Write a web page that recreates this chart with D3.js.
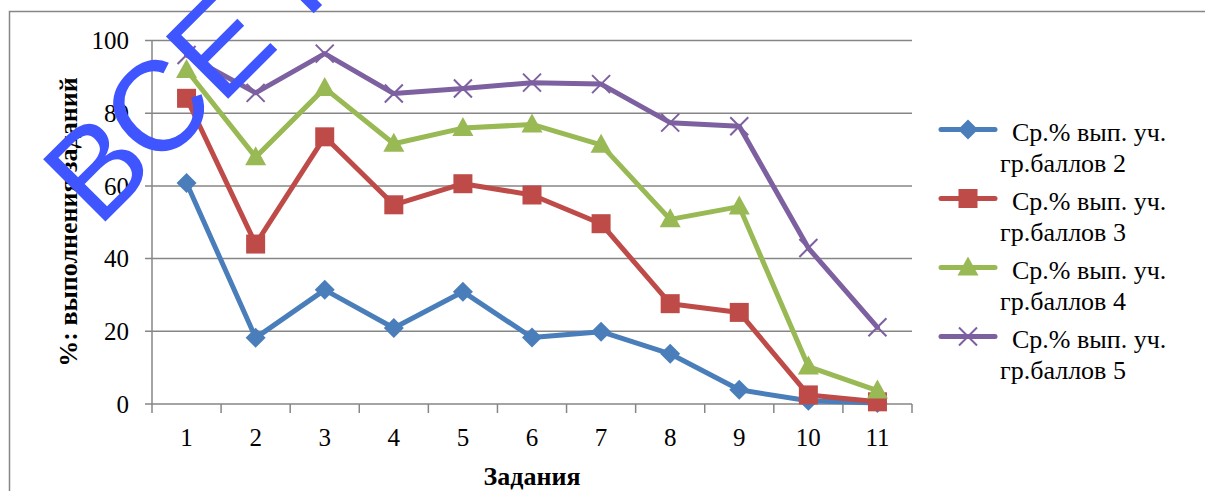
<!DOCTYPE html>
<html>
<head>
<meta charset="utf-8">
<script src="https://cdn.jsdelivr.net/npm/d3@7"></script>
<style>
  html, body { margin: 0; padding: 0; background: #fff; }
  svg { display: block; }
</style>
</head>
<body>
<script>
// ---- data ----
const categories = ["1","2","3","4","5","6","7","8","9","10","11"];
const seriesNames = [
  ["Ср.% вып. уч.", "гр.баллов 2"],
  ["Ср.% вып. уч.", "гр.баллов 3"],
  ["Ср.% вып. уч.", "гр.баллов 4"],
  ["Ср.% вып. уч.", "гр.баллов 5"]
];
const values2 = [60.8, 18.2, 31.4, 20.9, 30.9, 18.3, 19.9, 13.8, 3.9, 0.9, 0.3];
const values3 = [84.1, 44.0, 73.5, 54.8, 60.6, 57.5, 49.6, 27.6, 25.2, 2.5, 0.6];
const values4 = [91.9, 67.9, 86.9, 71.6, 75.9, 76.9, 71.3, 50.8, 54.3, 10.3, 3.7];
const values5 = [96.0, 85.6, 96.4, 85.4, 86.8, 88.4, 88.0, 77.4, 76.4, 42.9, 21.1];
const yTicks = [0, 20, 40, 60, 80, 100];
const yTitle = "%: выполнения заданий";
const xTitle = "Задания";
const watermark = "ВСЕ Р";

const colors = ["#4a7ebb", "#be4b48", "#98b954", "#7d60a0"];
const markers = ["diamond", "square", "triangle", "x"];
const allSeries = [values2, values3, values4, values5];

const W = 1205, H = 491;
const svg = d3.select("body").append("svg").attr("width", W).attr("height", H);

// outer chart border
svg.append("rect").attr("x", 9.5).attr("y", 11.5).attr("width", W).attr("height", H)
  .attr("fill", "none").attr("stroke", "#868686").attr("stroke-width", 1.5);

const x = d3.scaleBand().domain(categories).range([152, 912]).padding(0);
const y = d3.scaleLinear().domain([0, 100]).range([404, 40.5]);
const cx = c => x(c) + x.bandwidth() / 2;

const grey = "#868686";
const serif = "'Liberation Serif', 'Times New Roman', serif";

// gridlines
svg.append("g").selectAll("line").data(yTicks).join("line")
  .attr("x1", 145).attr("x2", 912)
  .attr("y1", d => y(d)).attr("y2", d => y(d))
  .attr("stroke", grey).attr("stroke-width", 1.5);

// y axis line
svg.append("line").attr("x1", 152).attr("x2", 152).attr("y1", y(100)).attr("y2", y(0))
  .attr("stroke", grey).attr("stroke-width", 1.5);

// x tick marks at band boundaries
const bounds = categories.map(c => x(c)).concat([x.range()[1]]);
svg.append("g").selectAll("line").data(bounds).join("line")
  .attr("x1", d => d).attr("x2", d => d).attr("y1", y(0)).attr("y2", y(0) + 9)
  .attr("stroke", grey).attr("stroke-width", 1.5);

// y tick labels
svg.append("g").selectAll("text").data(yTicks).join("text")
  .attr("x", 129).attr("y", d => y(d)).attr("dy", "0.35em")
  .attr("text-anchor", "end").attr("font-family", serif).attr("font-size", 25)
  .text(d => d);

// x tick labels
svg.append("g").selectAll("text").data(categories).join("text")
  .attr("x", d => cx(d)).attr("y", 437).attr("dy", "0.35em")
  .attr("text-anchor", "middle").attr("font-family", serif).attr("font-size", 25)
  .text(d => d);

// axis titles
svg.append("text").attr("x", 532).attr("y", 476).attr("dy", "0.35em")
  .attr("text-anchor", "middle").attr("font-family", serif).attr("font-size", 26)
  .attr("font-weight", "bold").text(xTitle);
svg.append("text").attr("transform", "translate(68,222) rotate(-90)").attr("dy", "0.35em")
  .attr("text-anchor", "middle").attr("font-family", serif).attr("font-size", 26)
  .attr("font-weight", "bold").text(yTitle);

function drawMarker(g, type, color, px, py) {
  if (type === "diamond") {
    g.append("path").attr("d", `M${px},${py-10}L${px+10},${py}L${px},${py+10}L${px-10},${py}Z`).attr("fill", color);
  } else if (type === "square") {
    g.append("rect").attr("x", px - 9.5).attr("y", py - 9.5).attr("width", 19).attr("height", 19).attr("fill", color);
  } else if (type === "triangle") {
    g.append("path").attr("d", `M${px},${py-11}L${px+10.5},${py+8}L${px-10.5},${py+8}Z`).attr("fill", color);
  } else {
    g.append("path").attr("d", `M${px-9},${py-9}L${px+9},${py+9}M${px-9},${py+9}L${px+9},${py-9}`)
      .attr("stroke", color).attr("stroke-width", 2).attr("fill", "none");
  }
}

const line = d3.line().x((d, i) => cx(categories[i])).y(d => y(d));
allSeries.forEach((vals, si) => {
  const g = svg.append("g");
  g.append("path").datum(vals).attr("d", line).attr("fill", "none")
    .attr("stroke", colors[si]).attr("stroke-width", 5).attr("stroke-linejoin", "round").attr("stroke-linecap", "round");
  vals.forEach((v, i) => drawMarker(g, markers[si], colors[si], cx(categories[i]), y(v)));
});

// legend
const legY = [129.5, 198.5, 267.5, 336.5];
seriesNames.forEach((nm, si) => {
  const g = svg.append("g");
  const ly = legY[si];
  g.append("line").attr("x1", 941).attr("x2", 995).attr("y1", ly).attr("y2", ly)
    .attr("stroke", colors[si]).attr("stroke-width", 5).attr("stroke-linecap", "round");
  drawMarker(g, markers[si], colors[si], 968, ly);
  g.append("text").attr("x", 1012).attr("y", ly + 11).attr("font-family", serif).attr("font-size", 26).text(nm[0]);
  g.append("text").attr("x", 1000).attr("y", ly + 42).attr("font-family", serif).attr("font-size", 26).text(nm[1]);
});

// watermark
svg.append("text").attr("transform", "translate(98,229) rotate(-45)")
  .attr("font-family", "'Liberation Sans', Arial, sans-serif").attr("font-size", 128)
  .attr("fill", "#3f55ff").text(watermark);
</script>
</body>
</html>
